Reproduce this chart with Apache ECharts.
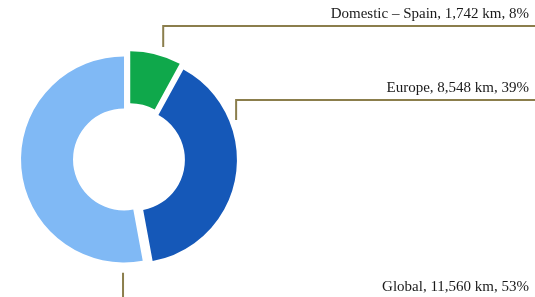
<!DOCTYPE html>
<html>
<head>
<meta charset="utf-8">
<script src="https://cdn.jsdelivr.net/npm/echarts@6/dist/echarts.min.js"></script>
<style>
html,body{margin:0;padding:0;background:#fff;}
#main{width:535px;height:297px;}
</style>
</head>
<body>
<div id="main"></div>
<script>
// ---- data ----
var categories = ['Domestic \u2013 Spain', 'Europe', 'Global'];
var distancesKm = [1742, 8548, 11560];
var percents = [8, 39, 53];

// ---- styling / layout ----
var sliceColors = ['#0fa84b', '#1558b8', '#80b9f5'];
var lineColor = '#8b7e4c';
var center = [129, 159];
var rInner = 51, rOuter = 103;
var explode = 5;
// leader anchors: angle (deg clockwise from top), distance from centre, label y
var leaderAngle = [17, 70, 183];
var leaderDist = [117, 114, 114];
var labelY = [14, 88, 287];

function fmt(n){ return n.toString().replace(/\B(?=(\d{3})+(?!\d))/g, ','); }

var total = distancesKm.reduce(function(s, v){ return s + v; }, 0);
var midAngle = [];
(function(){
  var acc = 0;
  distancesKm.forEach(function(v){
    midAngle.push((acc + v / 2) / total * 2 * Math.PI);
    acc += v;
  });
})();

var data = categories.map(function(c, i){
  return {
    name: c,
    value: distancesKm[i],
    selected: true,
    itemStyle: {color: sliceColors[i]}
  };
});

var chart = echarts.init(document.getElementById('main'), null, {renderer: 'canvas'});
var W = 535;
chart.setOption({
  animation: false,
  series: [{
    type: 'pie',
    center: center,
    radius: [rInner, rOuter],
    startAngle: 90,
    clockwise: true,
    selectedMode: 'multiple',
    selectedOffset: explode,
    emphasis: {disabled: true},
    itemStyle: {borderColor: '#fff', borderWidth: 0},
    label: {
      show: true,
      position: 'outside',
      overflow: 'none',
      fontFamily: 'Liberation Serif',
      fontSize: 15,
      color: '#1a1a1a',
      formatter: function(p){
        return p.name + ', ' + fmt(distancesKm[p.dataIndex]) + ' km, ' + percents[p.dataIndex] + '%';
      }
    },
    labelLine: {show: true, lineStyle: {color: lineColor, width: 2}},
    labelLayout: function(p){
      var i = p.dataIndex;
      // the label group moves with the exploded slice; compensate
      var ox = explode * Math.sin(midAngle[i]);
      var oy = -explode * Math.cos(midAngle[i]);
      var a = leaderAngle[i] * Math.PI / 180;
      var ax = center[0] + leaderDist[i] * Math.sin(a) - ox;
      var ay = center[1] - leaderDist[i] * Math.cos(a) - oy;
      var ly = labelY[i] + 12 - oy;
      var r = p.labelRect;
      var curRight = r.x + r.width;
      var curMid = r.y + r.height / 2;
      return {
        dx: (W - 6) - curRight - ox,
        dy: labelY[i] - curMid - oy,
        labelLinePoints: [[ax, ay], [ax, ly], [W - ox, ly]]
      };
    },
    data: data
  }]
});
</script>
</body>
</html>
